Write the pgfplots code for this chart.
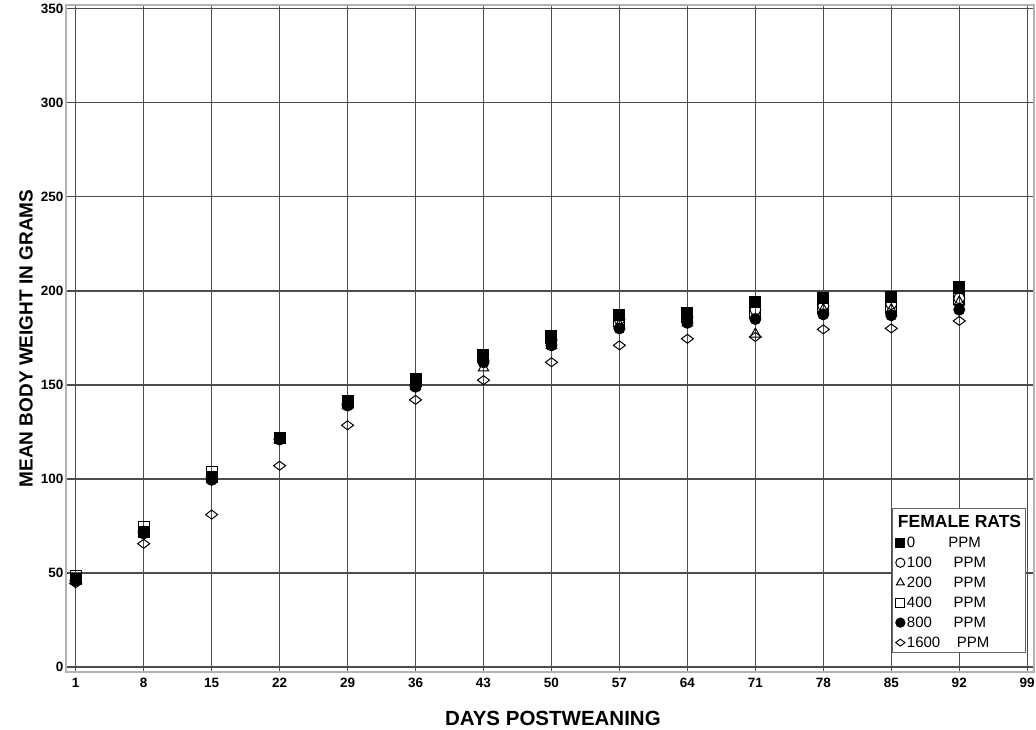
\documentclass[border=0pt]{standalone}
\usepackage{pgfplots}
\pgfplotsset{compat=1.18}
\usepackage{fontspec}
\setmainfont{Liberation Sans}
\begin{document}
\begin{tikzpicture}
\useasboundingbox (-66pt,-58pt) rectangle (970pt,672pt);
\begin{axis}[
  scale only axis, width=968pt, height=667pt,
  at={(0pt,0pt)}, anchor=south west,
  xmin=0, xmax=99.7, ymin=-2.7, ymax=352,
  xtick={1,8,15,22,29,36,43,50,57,64,71,78,85,92,99},
  ytick={0,50,100,150,200,250,300,350},
  grid=major,
  major grid style={black!70, line width=1.4pt},
  axis line style={black!30, line width=1.4pt},
  major tick length=0pt,
  /pgf/number format/assume math mode=true,
  ticklabel style={font=\bfseries\fontsize{13.5}{15}\selectfont},
  xticklabel style={yshift=-3pt},
  yticklabel style={xshift=1pt},
  xlabel={DAYS POSTWEANING},
  ylabel={MEAN BODY WEIGHT IN GRAMS},
  xlabel style={font=\bfseries\fontsize{20.5}{24}\selectfont, at={(axis description cs:0.503,-0.069)}, anchor=center},
  ylabel style={font=\bfseries\fontsize{19}{23}\selectfont, at={(axis description cs:-0.0413,0.5)}, anchor=center},
  legend style={at={(0.853,0.0285)}, anchor=south west, draw=black!60, line width=0.8pt, fill=white,
    font=\fontsize{15}{17}\selectfont, row sep=4pt, inner sep=2pt},
  legend cell align=left,
  legend image code/.code={\draw[mark repeat=2,mark phase=2,#1] plot coordinates {(0cm,0cm) (0.22cm,0cm) (0.44cm,0cm)};},
  legend image post style={mark size=4.6pt},
  every axis plot/.append style={only marks, line width=1pt},
]
% legend (display order)
\addlegendimage{empty legend}
\addlegendentry{\hspace{-9pt}\rule[-7pt]{0pt}{22pt}\bfseries\fontsize{17.5}{20}\selectfont FEMALE RATS}
\addlegendimage{only marks, mark=square*, mark options={fill=black, draw=black}}
\addlegendentry{0\hspace{2.2em}PPM}
\addlegendimage{only marks, mark=o, mark options={draw=black, fill=white}}
\addlegendentry{100\hspace{1.45em}PPM}
\addlegendimage{only marks, mark=triangle, mark options={draw=black, fill=white}}
\addlegendentry{200\hspace{1.45em}PPM}
\addlegendimage{only marks, mark=square, mark options={draw=black, fill=white}}
\addlegendentry{400\hspace{1.45em}PPM}
\addlegendimage{only marks, mark=*, mark options={fill=black, draw=black}}
\addlegendentry{800\hspace{1.45em}PPM}
\addlegendimage{only marks, mark=diamond, mark options={draw=black, fill=white, rotate=90}}
\addlegendentry{1600\hspace{1.1em}PPM}
% 1600 PPM
\addplot[forget plot, mark=diamond, mark size=6pt, mark options={draw=black, fill=white, rotate=90}] coordinates {
(1,44.5) (8,65.5) (15,81) (22,107) (29,128.5) (36,142) (43,152.5) (50,162) (57,171) (64,174.5) (71,175.5) (78,179.5) (85,180) (92,184)};
% 100 PPM
\addplot[forget plot, mark=o, mark size=5.5pt, mark options={draw=black, fill=white}] coordinates {
(1,46) (8,72) (15,101) (22,121) (29,140) (36,150) (43,163) (50,174) (57,185) (64,186) (71,190) (78,192) (85,193) (92,196)};
% 200 PPM
\addplot[forget plot, mark=triangle, mark size=6pt, mark options={draw=black, fill=white}] coordinates {
(1,46) (8,71) (15,100) (22,121) (29,139) (36,149) (43,159) (50,171) (57,182) (64,183) (71,177) (78,190) (85,190) (92,194)};
% 400 PPM
\addplot[forget plot, mark=square, mark size=5.5pt, mark options={draw=black, fill=white}] coordinates {
(1,48.5) (8,74.5) (15,103.5) (22,122) (29,141) (36,152) (43,165) (50,175) (57,184) (64,186) (71,188) (78,191) (85,191) (92,195.5)};
% 800 PPM
\addplot[forget plot, mark=*, mark size=5.5pt, mark options={fill=black, draw=black}] coordinates {
(1,46) (8,71) (15,99.5) (22,121) (29,139) (36,149) (43,162) (50,171) (57,180) (64,183) (71,185) (78,187.5) (85,187) (92,190)};
% 0 PPM
\addplot[forget plot, mark=square*, mark size=5.5pt, mark options={fill=black, draw=black}] coordinates {
(1,46.5) (8,72) (15,101) (22,122) (29,141.5) (36,153) (43,166) (50,176) (57,187) (64,188) (71,194) (78,196) (85,196.5) (92,202)};
\end{axis}
\end{tikzpicture}
\end{document}
